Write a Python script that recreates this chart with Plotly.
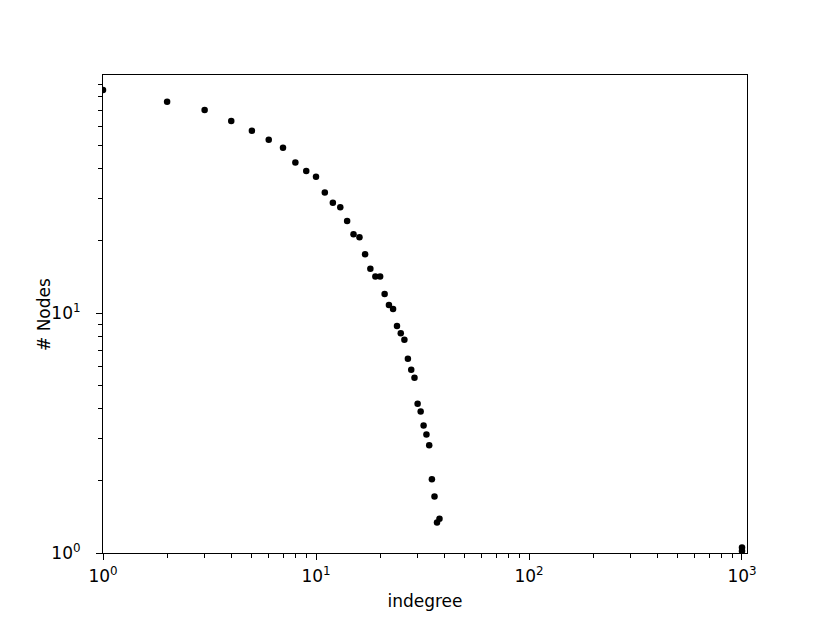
import plotly.graph_objects as go

indegree = list(range(1, 39)) + [1000, 1000]
nodes = [85, 75.9, 70.1, 63.1, 57.5, 52.7, 48.8, 42.4, 39.1, 37.0,
         31.8, 28.8, 27.6, 24.2, 21.3, 20.7, 17.6, 15.3, 14.2, 14.2,
         12.0, 10.8, 10.4, 8.83, 8.23, 7.74, 6.45, 5.80, 5.38, 4.19,
         3.89, 3.40, 3.12, 2.81, 2.03, 1.72, 1.34, 1.39, 1.055, 1.02]

x_major = [1, 10, 100, 1000]
x_major_text = ["10<sup>0</sup>", "10<sup>1</sup>", "10<sup>2</sup>", "10<sup>3</sup>"]
y_major = [1, 10]
y_major_text = ["10<sup>0</sup>", "10<sup>1</sup>"]

x_minor = [m * d for d in (1, 10, 100) for m in range(2, 10)]
y_minor = [m * d for d in (1, 10) for m in range(2, 10)]

font = dict(family="DejaVu Sans", size=17, color="black")

W, H = 830, 623
ML, MR, MT, MB = 103, 83, 75, 70

fig = go.Figure()
fig.add_trace(go.Scatter(
    x=indegree, y=nodes, mode="markers",
    marker=dict(color="black", size=6.5, line=dict(width=0)),
    showlegend=False,
))

axis_common = dict(
    type="log", showgrid=False, zeroline=False,
    showline=True, linecolor="black", linewidth=1.1, mirror=True,
    ticks="outside", ticklen=6, tickwidth=1, tickcolor="black",
    tickfont=font, tickmode="array",
)

fig.update_xaxes(
    **axis_common,
    range=[0, 3.0235],
    tickvals=x_major, ticktext=x_major_text,
    ticklabelstandoff=2,
    minor=dict(tickmode="array", tickvals=x_minor, ticks="outside",
               ticklen=3.5, tickwidth=0.8, tickcolor="black", showgrid=False),
    title=dict(text="indegree", font=font, standoff=9),
)
fig.update_yaxes(
    **axis_common,
    range=[0, 1.992],
    tickvals=y_major, ticktext=y_major_text,
    ticklabelstandoff=12,
    minor=dict(tickmode="array", tickvals=y_minor, ticks="outside",
               ticklen=3.5, tickwidth=0.8, tickcolor="black", showgrid=False),
)

fig.add_annotation(
    text="# Nodes", textangle=-90, showarrow=False, font=font,
    xref="paper", yref="paper",
    x=(44 - ML) / (W - ML - MR), y=0.5,
    xanchor="center", yanchor="middle",
)

fig.update_layout(
    width=W, height=H,
    margin=dict(l=ML, r=MR, t=MT, b=MB, autoexpand=False),
    plot_bgcolor="white", paper_bgcolor="white",
    font=font,
)

fig.write_html("out.html",
               config={"displayModeBar": False},
               post_script="document.body.style.margin='0';document.body.style.padding='0';")
